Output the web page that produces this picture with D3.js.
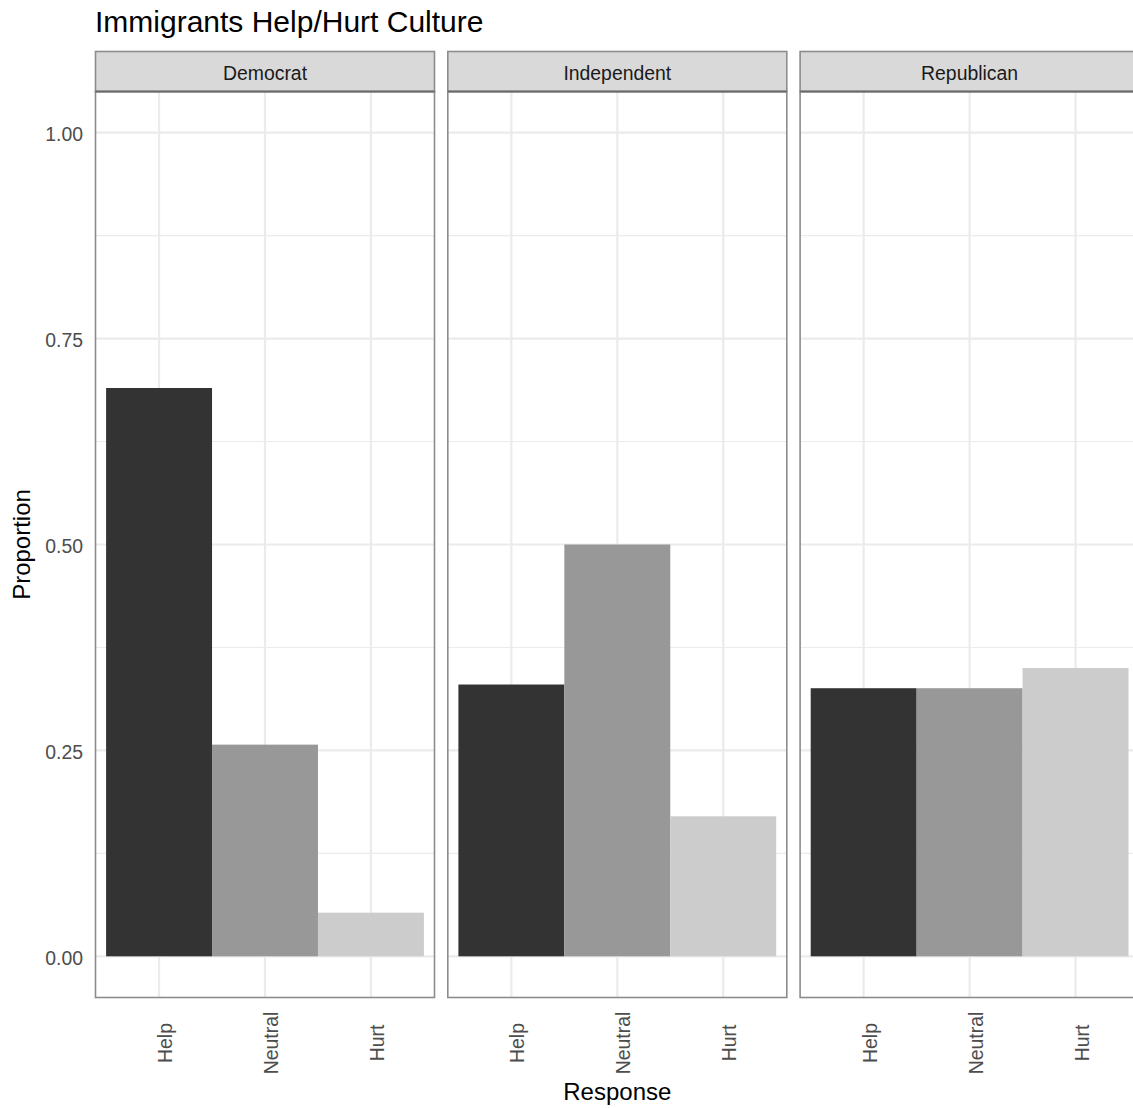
<!DOCTYPE html>
<html>
<head>
<meta charset="utf-8">
<script src="https://cdn.jsdelivr.net/npm/d3@7"></script>
<style>
  html, body { margin: 0; padding: 0; background: #fff; }
  svg { display: block; font-family: "Liberation Sans", Arial, Helvetica, sans-serif; }
</style>
</head>
<body>
<svg id="chart" width="1133" height="1108"></svg>
<script>
// ---- data ----
const parties = ["Democrat", "Independent", "Republican"];
const responses = ["Help", "Neutral", "Hurt"];
const democratValues = [0.690, 0.257, 0.053];
const independentValues = [0.330, 0.500, 0.170];
const republicanValues = [0.3255, 0.3255, 0.350];
const yTicks = [0, 0.25, 0.5, 0.75, 1.0];
const yTickLabels = ["0.00", "0.25", "0.50", "0.75", "1.00"];
const yMinorTicks = [0.125, 0.375, 0.625, 0.875];
const fillColors = ["#333333", "#989898", "#CCCCCC"];
const titleText = "Immigrants Help/Hurt Culture";
const xTitle = "Response";
const yTitle = "Proportion";

const seriesByParty = [democratValues, independentValues, republicanValues];

// ---- layout ----
const svg = d3.select("#chart");
const panelLeft = 95.5, panelW = 339, panelGap = 13.3;
const stripTop = 51.5, stripBottom = 91.5;
const panelTop = 91.5, panelBottom = 997.5;

const y = d3.scaleLinear().domain([-0.05, 1.05]).range([panelBottom, panelTop]);
// discrete x with ggplot expansion 0.6 on each side; bars width 1
const xCont = d3.scaleLinear().domain([0.4, 3.6]).range([0, panelW]);
const color = d3.scaleOrdinal().domain(responses).range(fillColors);

// title
svg.append("text")
  .attr("x", 95).attr("y", 31.5)
  .attr("font-size", 30).attr("fill", "#000")
  .text(titleText);

parties.forEach((p, i) => {
  const x0 = panelLeft + i * (panelW + panelGap);
  const g = svg.append("g").attr("transform", `translate(${x0},0)`);

  // minor grid
  g.selectAll(".minor").data(yMinorTicks).enter().append("line")
    .attr("x1", 0).attr("x2", panelW)
    .attr("y1", d => y(d)).attr("y2", d => y(d))
    .attr("stroke", "#EBEBEB").attr("stroke-width", 1.1);
  // major y grid
  g.selectAll(".majory").data(yTicks).enter().append("line")
    .attr("x1", 0).attr("x2", panelW)
    .attr("y1", d => y(d)).attr("y2", d => y(d))
    .attr("stroke", "#EBEBEB").attr("stroke-width", 2.2);
  // major x grid
  g.selectAll(".majorx").data(responses).enter().append("line")
    .attr("x1", (d, j) => xCont(j + 1)).attr("x2", (d, j) => xCont(j + 1))
    .attr("y1", panelTop).attr("y2", panelBottom)
    .attr("stroke", "#EBEBEB").attr("stroke-width", 2.2);

  // bars
  const vals = seriesByParty[i];
  g.selectAll(".bar").data(responses.map((r, j) => ({ r, j, v: vals[j] }))).enter().append("rect")
    .attr("x", d => xCont(d.j + 0.5))
    .attr("width", d => xCont(d.j + 1.5) - xCont(d.j + 0.5))
    .attr("y", d => y(d.v))
    .attr("height", d => y(0) - y(d.v))
    .attr("fill", d => color(d.r));

  // panel border
  g.append("rect")
    .attr("x", 0).attr("y", panelTop).attr("width", panelW).attr("height", panelBottom - panelTop)
    .attr("fill", "none").attr("stroke", "#8C8C8C").attr("stroke-width", 1.6);

  // strip
  g.append("rect")
    .attr("x", 0).attr("y", stripTop).attr("width", panelW).attr("height", stripBottom - stripTop)
    .attr("fill", "#D9D9D9").attr("stroke", "#8C8C8C").attr("stroke-width", 1.6);
  g.append("line")
    .attr("x1", 0).attr("x2", panelW).attr("y1", stripBottom).attr("y2", stripBottom)
    .attr("stroke", "#6A6A6A").attr("stroke-width", 2);
  g.append("text")
    .attr("x", panelW / 2).attr("y", 80)
    .attr("text-anchor", "middle").attr("font-size", 19.4).attr("fill", "#1A1A1A")
    .text(p);

  // x tick labels (rotated)
  g.selectAll(".xlab").data(responses).enter().append("text")
    .attr("transform", (d, j) => `translate(${xCont(j + 1) + 13},1043) rotate(-90)`)
    .attr("text-anchor", "middle").attr("font-size", 19.4).attr("fill", "#4D4D4D")
    .text(d => d);
});

// y tick labels
svg.selectAll(".ylab").data(yTicks).enter().append("text")
  .attr("x", 83).attr("y", d => y(d) + 8.5)
  .attr("text-anchor", "end").attr("font-size", 19.4).attr("fill", "#4D4D4D")
  .text((d, i) => yTickLabels[i]);

// axis titles
svg.append("text")
  .attr("x", panelLeft + (3 * panelW + 2 * panelGap) / 2).attr("y", 1100)
  .attr("text-anchor", "middle").attr("font-size", 24).attr("fill", "#000")
  .text(xTitle);
svg.append("text")
  .attr("transform", `translate(30,${(panelTop + panelBottom) / 2}) rotate(-90)`)
  .attr("text-anchor", "middle").attr("font-size", 24).attr("fill", "#000")
  .text(yTitle);
</script>
</body>
</html>
